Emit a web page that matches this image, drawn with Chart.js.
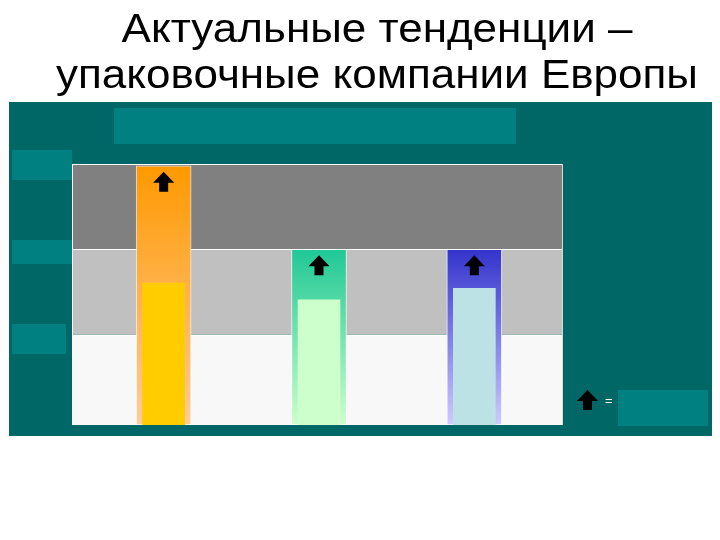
<!DOCTYPE html>
<html>
<head>
<meta charset="utf-8">
<script src="https://cdn.jsdelivr.net/npm/chart.js@4"></script>
<style>
  body { margin: 0; background: #fff; }
</style>
</head>
<body>
<canvas id="trendChart" width="720" height="540"></canvas>
<script>
// Актуальные тенденции – упаковочные компании Европы

const titleLines = ["Актуальные тенденции –", "упаковочные компании Европы"];
const categories = ["Компания 1", "Компания 2", "Компания 3"];
const outerValues = [2.98, 2.02, 2.02];
const innerValues = [1.63, 1.44, 1.57];
const bandEdges = [0, 1.04, 2.02, 3];
const bandColors = ["#f8f8f8", "#c0c0c0", "#808080"];
const outerTop = ["#ff9900", "#1fc896", "#3333cc"];
const outerBottom = ["#ffcc99", "#ccffcc", "#ccccff"];
const innerColors = ["#ffcc00", "#ccffcc", "#bde2e6"];

function barGradient(context) {
  const chart = context.chart;
  const area = chart.chartArea;
  if (!area) return outerTop[context.dataIndex];
  const y = chart.scales.y;
  const g = chart.ctx.createLinearGradient(0, y.getPixelForValue(outerValues[context.dataIndex]), 0, y.getPixelForValue(0));
  g.addColorStop(0, outerTop[context.dataIndex]);
  g.addColorStop(1, outerBottom[context.dataIndex]);
  return g;
}

function drawArrow(ctx, cx, top) {
  ctx.fillStyle = "#000";
  ctx.beginPath();
  ctx.moveTo(cx, top);
  ctx.lineTo(cx + 10.5, top + 11);
  ctx.lineTo(cx + 4.5, top + 11);
  ctx.lineTo(cx + 4.5, top + 20);
  ctx.lineTo(cx - 4.5, top + 20);
  ctx.lineTo(cx - 4.5, top + 11);
  ctx.lineTo(cx - 10.5, top + 11);
  ctx.closePath();
  ctx.fill();
}

// фон слайда, заголовок и полосы
const slidePlugin = {
  id: "slide",
  beforeDraw(chart) {
    const ctx = chart.ctx;
    ctx.save();
    ctx.fillStyle = "#fff";
    ctx.fillRect(0, 0, 720, 540);

    // заголовок немного растянут по ширине
    ctx.save();
    ctx.fillStyle = "#000";
    ctx.font = '40px "Liberation Sans", Arial, sans-serif';
    ctx.textAlign = "center";
    ctx.textBaseline = "alphabetic";
    ctx.translate(377, 0);
    ctx.scale(1.1, 1);
    ctx.fillText(titleLines[0], 0, 42);
    ctx.fillText(titleLines[1], 0, 88);
    ctx.restore();

    ctx.fillStyle = "#006666";
    ctx.fillRect(9, 102, 703, 334);

    ctx.fillStyle = "#008080";
    ctx.fillRect(114, 108, 402, 36);
    ctx.fillRect(12, 150, 60, 30);
    ctx.fillRect(12, 240, 60, 24);
    ctx.fillRect(12, 324, 54, 30);
    ctx.fillRect(618, 390, 90, 36);

    // полосы диапазонов
    const y = chart.scales.y;
    const left = chart.chartArea.left - 14;
    const right = chart.chartArea.right + 11;
    for (let i = 0; i < bandColors.length; i++) {
      const y0 = y.getPixelForValue(bandEdges[i]);
      const y1 = y.getPixelForValue(bandEdges[i + 1]);
      ctx.fillStyle = bandColors[i];
      ctx.fillRect(left, y1, right - left, y0 - y1);
    }
    ctx.strokeStyle = "#ffffff";
    ctx.lineWidth = 1;
    for (let i = 1; i < bandEdges.length; i++) {
      const yy = Math.round(y.getPixelForValue(bandEdges[i])) + 0.5;
      ctx.beginPath();
      ctx.moveTo(left, yy);
      ctx.lineTo(right, yy);
      ctx.stroke();
    }
    ctx.beginPath();
    ctx.moveTo(left + 0.5, y.getPixelForValue(bandEdges[0]));
    ctx.lineTo(left + 0.5, y.getPixelForValue(bandEdges[3]));
    ctx.stroke();
    ctx.strokeStyle = "#d8d8d8";
    ctx.beginPath();
    ctx.moveTo(right - 0.5, y.getPixelForValue(bandEdges[0]));
    ctx.lineTo(right - 0.5, y.getPixelForValue(bandEdges[3]));
    ctx.stroke();
    ctx.restore();
  },
  afterDatasetsDraw(chart) {
    const ctx = chart.ctx;
    ctx.save();
    chart.getDatasetMeta(0).data.forEach(bar => {
      drawArrow(ctx, bar.x, bar.y + 6);
    });
    // легенда стрелки
    drawArrow(ctx, 587.5, 390);
    ctx.fillStyle = "#fff";
    ctx.font = '13px "Liberation Sans", Arial, sans-serif';
    ctx.textAlign = "left";
    ctx.textBaseline = "middle";
    ctx.fillText("=", 605, 401);
    ctx.restore();
  }
};

new Chart(document.getElementById("trendChart"), {
  type: "bar",
  data: {
    labels: categories,
    datasets: [
      {
        data: outerValues,
        backgroundColor: barGradient,
        borderColor: "rgba(255,255,255,0.75)",
        borderWidth: 1,
        borderSkipped: false,
        barThickness: 55,
        grouped: false,
        order: 2
      },
      {
        data: innerValues,
        backgroundColor: innerColors,
        borderWidth: 0,
        barThickness: 42,
        grouped: false,
        order: 1
      }
    ]
  },
  options: {
    responsive: false,
    devicePixelRatio: 1,
    animation: false,
    layout: { padding: { left: 86, right: 168, top: 164, bottom: 115 } },
    scales: {
      x: { display: false },
      y: { display: false, min: 0, max: 3 }
    },
    plugins: {
      legend: { display: false },
      tooltip: { enabled: false }
    }
  },
  plugins: [slidePlugin]
});
</script>
</body>
</html>
